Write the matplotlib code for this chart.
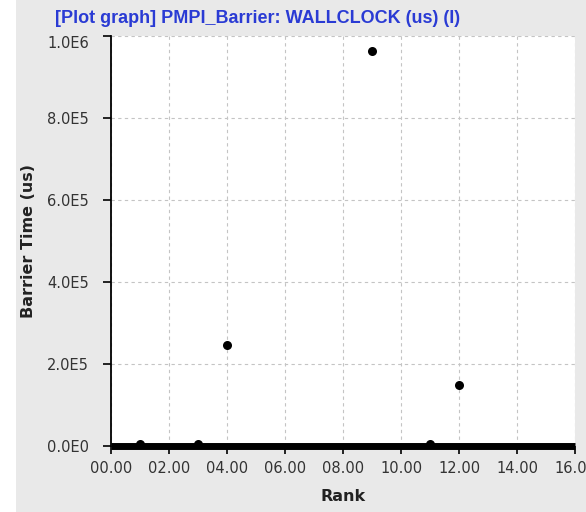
import matplotlib
matplotlib.use("Agg")
import matplotlib.pyplot as plt
import matplotlib.ticker as mticker
import numpy as np

# Barrier wall-clock time per MPI rank (microseconds)
ranks = [0, 1, 2, 3, 4, 5, 6, 7, 8, 9, 10, 11, 12, 13, 14, 15, 16]
barrier_us = [0, 5000, 0, 5000, 246000, 0, 0, 0, 0, 963000, 0, 5000, 150000, 0, 0, 0, 0]

x_ticks = [0, 2, 4, 6, 8, 10, 12, 14, 16]
y_ticks = [0, 200000, 400000, 600000, 800000, 1000000]

title = "[Plot graph] PMPI_Barrier: WALLCLOCK (us) (I)"
x_label = "Rank"
y_label = "Barrier Time (us)"

W, H, DPI = 586, 512, 100
fig = plt.figure(figsize=(W / DPI, H / DPI), dpi=DPI, facecolor="#e9e9e9")
# white strip on the left edge of the window
fig.patches.append(plt.Rectangle((0, 0), 16 / W, 1, transform=fig.transFigure,
                                 facecolor="white", edgecolor="none", zorder=-1))

ax = fig.add_axes([111 / W, 1 - 446 / H, (575 - 111) / W, (446 - 36) / H])
ax.set_facecolor("white")
ax.set_xlim(0, 16)
ax.set_ylim(0, 1000000)

x = np.array(ranks, dtype=float)
y = np.array(barrier_us, dtype=float)

# zero-time samples run together into a thick band along the axis
zero = y == 0
ax.plot(x[zero], y[zero], color="black", lw=5, solid_capstyle="butt",
        clip_on=False, zorder=4)
ax.scatter(x[~zero], y[~zero], s=6.5 ** 2, color="black", zorder=5, linewidths=0)

ax.set_xticks(x_ticks)
ax.set_yticks(y_ticks)
ax.xaxis.set_major_formatter(mticker.FuncFormatter(lambda v, p: "%05.2f" % v))


def sci(v, p):
    if v == 0:
        return "0.0E0"
    e = int(np.floor(np.log10(abs(v))))
    return "%.1fE%d" % (v / 10 ** e, e)


ax.yaxis.set_major_formatter(mticker.FuncFormatter(sci))

ax.grid(True, color="#c4c4c4", lw=0.8, linestyle=(0, (3, 3)))
ax.set_axisbelow(True)

for s in ("top", "right", "bottom"):
    ax.spines[s].set_visible(False)
ax.spines["left"].set_color("black")
ax.spines["left"].set_linewidth(1.3)

ax.tick_params(axis="both", direction="out", length=6, width=1.2, color="black",
               labelsize=10.5, labelcolor="#333333")
ax.tick_params(axis="y", pad=10)
ax.tick_params(axis="x", pad=5)

ax.set_xlabel(x_label, fontsize=11.5, fontweight="bold", color="#222222", labelpad=9)
ax.set_ylabel(y_label, fontsize=11.5, fontweight="bold", color="#222222", labelpad=8)

# keep the top tick label inside the plot's vertical span
fig.canvas.draw()
ax.get_yticklabels()[-1].set_verticalalignment("top")

fig.text(55 / W, 1 - 10 / H, title, ha="left", va="top", fontsize=13,
         fontweight="bold", color="#2a3bd4", family="Liberation Sans")

fig.savefig("out.png", dpi=DPI, facecolor=fig.get_facecolor())
